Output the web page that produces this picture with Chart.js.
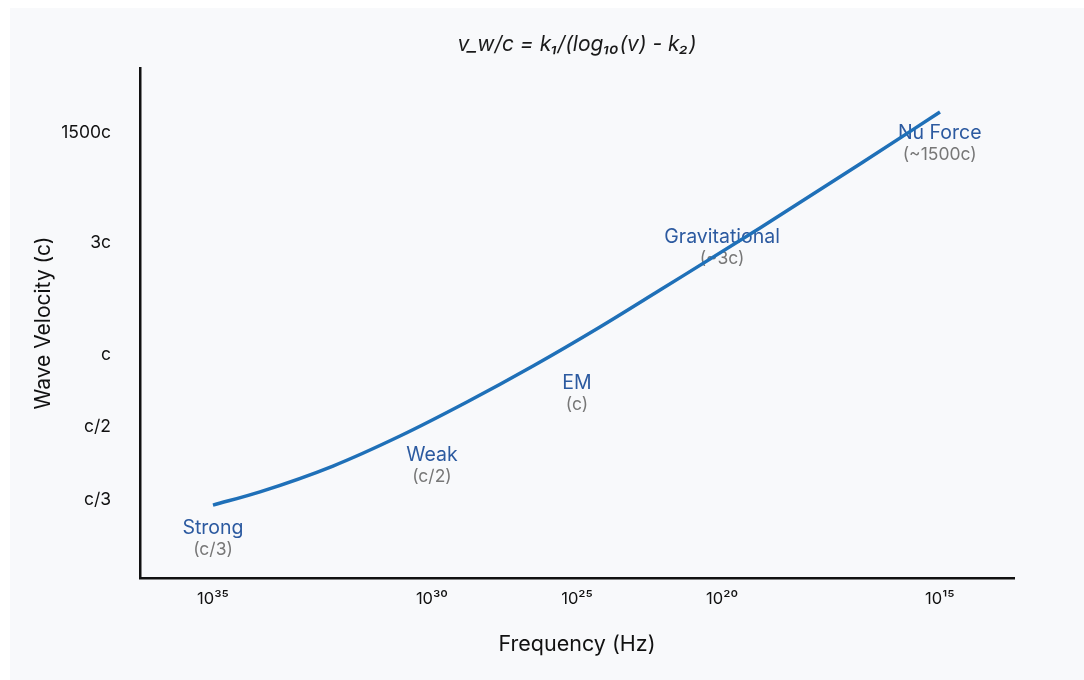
<!DOCTYPE html>
<html>
<head>
<meta charset="utf-8">
<script src="https://cdn.jsdelivr.net/npm/chart.js@4.4.0/dist/chart.umd.min.js"></script>
<style>
  html, body { margin: 0; padding: 0; background: #ffffff; }
  #wrap { position: absolute; left: 10px; top: 8px; width: 1074px; height: 672px; background: #f8f9fb; }
  canvas { display: block; }
</style>
</head>
<body>
<div id="wrap"><canvas id="c" width="1074" height="672"></canvas></div>
<script>
// ---- data (axis units: 0..100 along each drawn axis) ----
const xTickPos    = [8.35, 33.4, 50.0, 66.6, 91.5];
const xTickLabels = ['10\u00B3\u2075', '10\u00B3\u2070', '10\u00B2\u2075', '10\u00B2\u2070', '10\u00B9\u2075'];
const yTickPos    = [15.3, 29.6, 43.7, 65.7, 87.3];
const yTickLabels = ['c/3', 'c/2', 'c', '3c', '1500c'];

const curveX = [8.35, 13.73, 22.08, 29.75, 37.41, 44.97, 52.63, 59.50, 70.94, 82.38, 91.53];
const curveY = [14.3, 16.9, 21.96, 27.84, 34.51, 41.57, 49.22, 56.47, 68.63, 81.18, 91.37];

const forceNames  = ['Strong', 'Weak', 'EM', 'Gravitational', 'Nu Force'];
const forceValues = ['(c/3)', '(c/2)', '(c)', '(~3c)', '(~1500c)'];
const forceX      = [8.35, 33.4, 50.0, 66.6, 91.5];
const forceLabelY = [9.8, 24.1, 38.2, 66.9, 87.3];

const titleText = 'v_w/c = k\u2081/(log\u2081\u2080(v) - k\u2082)';
const xTitle = 'Frequency (Hz)';
const yTitle = 'Wave Velocity (c)';

const FONT = 'Inter, "Noto Sans", "DejaVu Sans", sans-serif';

const points = curveX.map((x, i) => ({ x: x, y: curveY[i] }));

const labelPlugin = {
  id: 'forceLabels',
  beforeDatasetsDraw(chart) {
    const { ctx, scales } = chart;
    ctx.save();
    ctx.textAlign = 'center';
    ctx.textBaseline = 'middle';
    forceNames.forEach((name, i) => {
      const px = scales.x.getPixelForValue(forceX[i]);
      const py = scales.y.getPixelForValue(forceLabelY[i]);
      ctx.font = '19.5px ' + FONT;
      ctx.fillStyle = '#2c5aa0';
      ctx.fillText(name, px, py);
      ctx.font = '17.5px ' + FONT;
      ctx.fillStyle = '#777777';
      ctx.fillText(forceValues[i], px, py + 22);
    });
    ctx.restore();
  },
  afterDraw(chart) {
    const { ctx, chartArea } = chart;
    ctx.save();
    ctx.textAlign = 'center';
    ctx.textBaseline = 'middle';
    ctx.font = 'italic 21px ' + FONT;
    ctx.fillStyle = '#1a1a1a';
    ctx.fillText(titleText, (chartArea.left + chartArea.right) / 2, 37);
    ctx.restore();
  }
};

new Chart(document.getElementById('c'), {
  type: 'line',
  data: {
    datasets: [{
      data: points,
      borderColor: '#1f70b8',
      borderWidth: 3.5,
      pointRadius: 0,
      fill: false,
      tension: 0.4,
      cubicInterpolationMode: 'monotone'
    }]
  },
  options: {
    responsive: false,
    animation: false,
    devicePixelRatio: 1,
    layout: { padding: { left: 0, top: 60, right: 70, bottom: 0 } },
    plugins: { legend: { display: false }, tooltip: { enabled: false }, title: { display: false } },
    scales: {
      x: {
        type: 'linear',
        min: 0, max: 100,
        afterBuildTicks: (s) => { s.ticks = xTickPos.map(v => ({ value: v })); },
        afterFit: (s) => { s.height = 102; },
        grid: { display: false, drawTicks: false },
        border: { display: true, color: '#111111', width: 2.5 },
        ticks: {
          padding: 11,
          color: '#111111',
          font: { family: FONT, size: 16.5 },
          autoSkip: false,
          maxRotation: 0,
          callback: (v) => { const i = xTickPos.indexOf(v); return i >= 0 ? xTickLabels[i] : ''; }
        },
        title: {
          display: true, text: xTitle, color: '#111111',
          font: { family: FONT, size: 21.5 },
          padding: { top: 0, bottom: 23 }
        }
      },
      y: {
        type: 'linear',
        min: 0, max: 100,
        afterBuildTicks: (s) => { s.ticks = yTickPos.map(v => ({ value: v })); },
        afterFit: (s) => { s.width = 130; },
        grid: { display: false, drawTicks: false },
        border: { display: true, color: '#111111', width: 2.5 },
        ticks: {
          padding: 29,
          color: '#111111',
          font: { family: FONT, size: 17.5 },
          autoSkip: false,
          callback: (v) => { const i = yTickPos.indexOf(v); return i >= 0 ? yTickLabels[i] : ''; }
        },
        title: {
          display: true, text: yTitle, color: '#111111',
          font: { family: FONT, size: 21 },
          padding: { top: 21, bottom: 0 }
        }
      }
    }
  },
  plugins: [labelPlugin]
});
</script>
</body>
</html>
